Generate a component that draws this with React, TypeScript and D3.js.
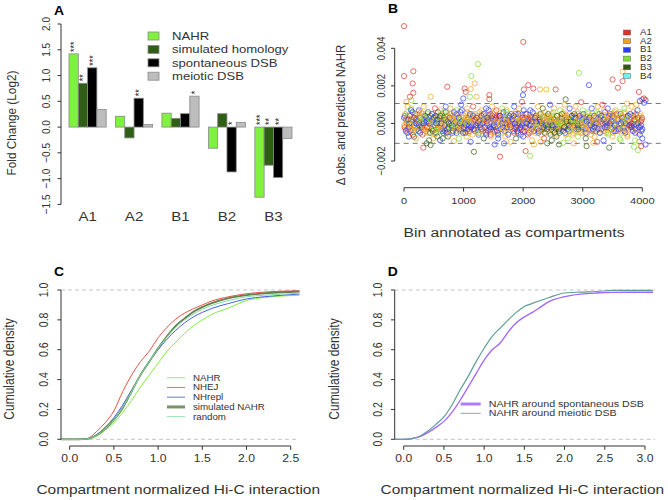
import React from "react";
import * as d3 from "d3";

// ---------- Panel A data ----------
const categories = ["A1", "A2", "B1", "B2", "B3"];
const seriesNames = ["NAHR", "simulated homology", "spontaneous DSB", "meiotic DSB"];
const nahr = [1.42, 0.21, 0.27, -0.41, -1.36];
const simHomology = [0.85, -0.21, 0.17, 0.26, -0.74];
const spontDSB = [1.15, 0.56, 0.26, -0.87, -0.98];
const meioticDSB = [0.34, 0.05, 0.6, 0.09, -0.22];
const starsNahr = ["***", "", "", "", "***"];
const starsSim = ["**", "", "", "", "**"];
const starsSpont = ["***", "**", "", "*", "**"];
const starsMeio = ["", "", "*", "", ""];
const ticksA = [-1.5, -1, -0.5, 0, 0.5, 1, 1.5, 2];

// ---------- Panel B data (values in 1e-4) ----------
const compNames = ["A1", "A2", "B1", "B2", "B3", "B4"];
// bins 0, 10, 20, ... 4000
const bandVals = [
  3,-2,5,-4,1,6,-3,2,-5,0,4,-1,7,-3,2,-6,1,3,-2,5,
  -4,0,2,-3,6,-1,4,-5,1,3,-2,-6,5,0,-3,2,4,-4,1,-2,
  6,-3,0,3,-5,2,-1,5,-4,1,3,-2,-6,4,0,-3,2,6,-1,-4,
  1,4,-3,0,5,-2,-5,3,1,-4,6,-1,2,-3,4,0,-6,3,-2,5,
  -1,3,-4,2,6,-3,0,4,-5,1,-2,5,3,-4,0,2,-3,7,-1,-5,
  4,-2,1,-5,3,0,6,-3,2,-1,-4,5,1,-2,3,-6,4,0,-3,2,
  5,-1,3,-4,0,2,-5,6,-2,1,4,-3,0,-1,5,-4,2,3,-6,1,
  3,-4,7,0,-2,5,-3,1,4,-5,2,-1,6,-2,0,3,-4,1,-6,4,
  -2,4,1,-5,3,0,-3,6,-1,2,-4,5,1,-2,3,-6,0,4,-1,2,
  5,-3,2,-1,4,-5,0,6,-2,3,-4,1,5,-3,0,2,-6,4,-1,3,
  -4,7,1,-2,5,-3,0,3,-6,2,4,-1,-5,3,1,-2,6,-4,0,2,
  3,-5,1,4,-2,0,-4,5,2,-3,1,-6,4,0,-2,3,-5,2,-1,4,
  -3,1,5,-4,0,2,-6,3,-1,4,-2,6,0,-5,2,-3,1,4,-4,0,
  2,-5,3,0,-3,5,1,-4,6,-2,0,3,-6,1,4,-3,2,-1,5,-4,
  1,-3,4,-6,2,0,5,-2,3,-4,1,6,-1,-3,2,4,-5,0,3,-2,
  -1,5,-3,2,0,-5,4,1,-2,6,-4,3,0,-1,-6,2,5,-3,1,4,
  -2,3,0,-4,6,1,-3,2,5,-5,0,4,-1,3,-4,2,7,-2,0,-5,
  4,-1,2,-6,3,0,5,-3,1,-2,4,-5,2,6,-1,0,-4,3,-2,5,
  -3,2,6,-1,0,-5,3,4,-2,1,-4,5,0,-3,2,-6,4,1,-1,3,
  5,-2,0,3,-4,6,-1,2,-5,4,1,-3,7,0,-2,3,-6,5,-1,2,
  -3,
];
const bandComp =
  "cabcbdacbcabcbdabcba" + "bcadbcbcdbcabcbdcbca" + "ebcbedbcebcdbecbcebd" + "bebcdbecbcebdcbebcdb" +
  "cbebcbdbcbebcbcdbcbe" + "bcbcbdbcbcacbcdbcbca" + "bcabcbdbcbcacbcbdbca" + "cacbcacbcbacbcbacbca" +
  "bcbdbcbcbcbdbcbcbcab" + "cbcbcacbcbcbcacbcbca" + "acbcabcbacbcbacbcbdb" + "cbcbdbcbebcbdbcbebcb" +
  "ebebdbebcbedbebcbebd" + "bebdbebcbebdbebcbebd" + "ebcbdbebcbdbcebcbdbc" + "bcbdbcbcbdbcbcbdbcbc" +
  "cbcbdbcbacbcbdbcbcab" + "bcbdbcabcbcbdbcbcbdb" + "cbdbcbcbdbcbcbdbcbcb" + "cacbcbcacbdbcacbcbca" + "c";
// bins 5, 15, 25, ... 3995
const bandVals2 = [
  -1,4,-3,2,0,-5,3,1,-2,5,-4,0,2,-3,6,1,-1,-4,3,0,
  2,-3,5,1,-4,0,3,-2,6,-1,0,4,-3,1,-5,2,0,3,-2,5,
  -5,1,3,-2,4,0,-3,2,5,-4,1,-1,3,-5,2,0,4,-2,1,-3,
  3,-1,0,4,-4,2,6,-3,-1,2,0,-5,4,1,-2,3,-3,5,0,-1,
  2,-5,4,0,-2,3,1,-4,5,-1,3,0,-3,2,6,-2,1,-4,0,3,
  -3,2,0,5,-1,-4,2,3,-5,1,4,-2,0,3,-1,5,-3,2,-4,1,
  0,3,-2,4,-5,1,2,-1,3,-3,5,0,-4,2,1,-2,4,-5,3,0,
  -1,2,4,-3,1,-6,3,0,-2,5,-1,3,-4,2,0,4,-2,-5,1,3,
  4,-1,-3,2,0,5,-2,1,-4,3,0,-1,6,-3,2,-5,1,3,-2,0,
  -2,1,4,-4,2,0,-3,5,1,-1,3,-5,0,2,4,-2,1,-3,5,0,
  2,-1,-4,3,0,5,-2,1,3,-5,0,2,-1,4,-3,1,-2,5,-4,3,
  -1,4,0,-3,2,-5,3,1,-2,5,-4,0,2,-1,4,-3,6,0,-2,1,
  3,-2,0,4,-5,1,2,-3,5,-1,-4,2,0,3,-6,1,4,-2,0,-3,
  -4,2,1,-1,3,-3,0,5,-2,4,-5,1,2,-1,0,3,-4,5,-2,1,
  0,4,-2,1,-5,3,-1,2,4,-3,0,5,-2,1,-4,3,0,-1,2,-5,
  3,-2,1,4,-3,0,2,-5,5,-1,2,-3,0,4,-2,1,-4,3,0,-2,
  1,-4,3,0,-2,5,-1,2,-5,3,1,-3,4,0,-1,2,-4,6,-2,1,
  -2,3,-5,1,4,-1,0,2,-3,5,-2,1,-4,3,0,-1,5,-3,2,-4,
  2,0,-3,5,-1,3,-4,1,2,-2,6,-5,0,3,-1,4,-3,1,-2,5,
  -1,3,-2,0,4,-4,2,1,-3,5,-1,0,3,-5,2,4,-2,1,-4,3,
];
const bandComp2 =
  "bcbabcbdcbcbabcbcdbc" + "cbdbcbcabcbdbcbcbcbd" + "bcebcbecbdbcbebcbedb" + "cbebcbdbcebcbcebdbcb" +
  "bcbcdbcbcbdbcbcbcbdb" + "cbcbcbcdbcbcabcbcbcb" + "bcbdbcbcbcbdbcacbcbc" + "acbcbacbcbcbacbcbacb" +
  "cbcbdbcbcbcbdbcbcbcb" + "bcbcbcacbcbcbdbcbcbc" + "cbacbcbdbcbacbcbcbcb" + "bcbebcbcbebcbdbcbebc" +
  "bebdbebcbebebdbebcbe" + "ebcbebdbebcbebdbcbeb" + "bcbebcbdbcebcbdbcbeb" + "cbdbcbcbdbcbcbdbcbcb" +
  "bcbcbdbcbcacbcbdbcbc" + "cbdbcbcbcbdbcbcbabcb" + "bcbcbdbcbcbcbdbcbcbd" + "cbcacbcbcacbcbdbcaca";
const outlierBins = [
  0, 0, 157, 145, 157, 100, 39, 123, 727, 447, 1018, 1035, 1119, 1107, 1130, 1186, 1242, 1219, 1432, 1432,
  995, 2002, 2013, 2086, 2170, 1997, 1980, 2282, 2388, 2545, 2936, 3104, 2713, 2975, 3501, 3591, 3669, 3669,
  3943, 4027, 4055, 3999, 3747,
  324, 380, 447, 492, 1174, 1521, 1611, 1678, 1790, 2041, 2114, 2181, 2293, 2405, 2601, 2673, 2852, 3065,
  3177, 3244, 3445, 3635, 3859, 3926, 3982, 4055, 3949, 1119, 839, 168, 604,
  60, 120, 250, 330, 520, 610, 700, 780, 880, 960, 1060, 1160, 1300, 1380, 1480, 1550, 1650, 1720, 1850,
  1930, 2120, 2250, 2330, 2450, 2520, 2620, 2700, 2780, 2880, 3000, 3150, 3250, 3330, 3420, 3550, 3700,
  3820, 3900, 3960, 4030,
  80, 200, 420, 560, 650, 740, 920, 1050, 1250, 1340, 1460, 1580, 1700, 1880, 2000, 2150, 2350, 2480, 2560,
  2750, 2920, 3050, 3200, 3350, 3500, 3620, 3750, 3880, 4000,
];
const outlierVals = [
  51.8, 25.2, 27.8, 21.3, 16.3, 14.2, 11.5, 12.4, 19.5, 14.2, 18.6, 16.8, 18.3, 14.2, 25.2, 21.3, 31.6, 14.2, 15.1, 12.9,
  13.3, 43.4, 18.1, 20.4, 18.6, 15.1, 11.5, 18.1, 18.1, 18.1, 26.9, 20.4, 12.8, 11.3, 23.4, 19.0, 27.5, 22.5,
  16.8, 13.3, 12.4, 12.8, 10.6,
  -12.9, -10.6, -11.5, -8.0, -15.1, -11.2, -17.7, -10.6, -9.8, -14.7, -17.2, -11.2, -9.8, -10.6, -11.2, -10.3, -10.6, -12.1,
  -10.3, -9.8, -12.9, -8.9, -12.4, -14.2, -12.1, -11.2, -9.8, -9.8, -9.4, -7.1, -8.9,
  9, 8, 7, 9, 8, 7, 9, 8, 7, 10, 8, 9, 7, 8, 9, 7, 8, 7, 9,
  8, 7, 9, 8, 10, 8, 7, 10, 8, 9, 7, 8, 9, 10, 8, 7, 8,
  9, 10, 12, 11,
  -7, -8, -9, -7, -8, -7, -8, -7, -6, -8, -7, -8, -7, -8, -7, -9, -8, -9, -7,
  -8, -7, -8, -7, -9, -7, -8, -7, -9, -8,
];
const outlierComp =
  "aaaaaabdabaabddbdbaa" + "caaaacabbadceaaabaa" + "acab" +
  "aeebecacbadbbeedbe" + "baedddacbcbec" +
  "bdcbabcbdcbabcbadbc" + "bcbecbdbcbdcbacbd" + "bbcc" +
  "cbeeeedbcebcbecbaeeddebcbdbdca";
const ticksBY = [-0.002, 0, 0.002, 0.004];
const ticksBX = [0, 1000, 2000, 3000, 4000];

// ---------- Panel C data ----------
const cdfXC = [-0.1, 0, 0.1, 0.2, 0.3, 0.4, 0.5, 0.6, 0.7, 0.8, 0.9, 1.0, 1.1, 1.2, 1.3, 1.4, 1.5, 1.6, 1.8, 2.0, 2.2, 2.4, 2.6];
const cdfNAHR = [0, 0, 0, 0.002, 0.02, 0.06, 0.11, 0.18, 0.26, 0.35, 0.43, 0.51, 0.59, 0.65, 0.71, 0.76, 0.8, 0.835, 0.88, 0.93, 0.95, 0.96, 0.965];
const cdfNHEJ = [0, 0, 0, 0.005, 0.05, 0.11, 0.19, 0.32, 0.43, 0.52, 0.59, 0.68, 0.75, 0.805, 0.845, 0.875, 0.9, 0.925, 0.955, 0.975, 0.986, 0.992, 0.995];
const cdfNHrepl = [0, 0, 0, 0.003, 0.03, 0.08, 0.145, 0.23, 0.33, 0.43, 0.52, 0.6, 0.67, 0.73, 0.78, 0.82, 0.85, 0.875, 0.91, 0.94, 0.955, 0.965, 0.973];
const cdfSimNAHR = [0, 0, 0, 0.003, 0.025, 0.07, 0.13, 0.21, 0.32, 0.43, 0.52, 0.61, 0.69, 0.76, 0.81, 0.855, 0.885, 0.91, 0.945, 0.965, 0.977, 0.985, 0.99];
const cdfRandom = [0, 0, 0, 0.003, 0.025, 0.07, 0.13, 0.215, 0.32, 0.43, 0.52, 0.61, 0.685, 0.75, 0.8, 0.84, 0.87, 0.895, 0.93, 0.955, 0.965, 0.972, 0.978];
const legendC = ["NAHR", "NHEJ", "NHrepl", "simulated NAHR", "random"];
const ticksCX = [0, 0.5, 1, 1.5, 2, 2.5];
const ticksCY = [0, 0.2, 0.4, 0.6, 0.8, 1];

// ---------- Panel D data ----------
const cdfXD = [-0.11, 0, 0.1, 0.2, 0.3, 0.4, 0.5, 0.6, 0.7, 0.8, 0.9, 1.0, 1.1, 1.2, 1.3, 1.4, 1.5, 1.6, 1.7, 1.8, 2.0, 2.2, 2.4, 2.6, 2.8, 3.1];
const cdfSpont = [0, 0, 0.005, 0.018, 0.045, 0.08, 0.12, 0.18, 0.26, 0.35, 0.44, 0.53, 0.6, 0.645, 0.72, 0.78, 0.82, 0.85, 0.885, 0.92, 0.955, 0.972, 0.98, 0.984, 0.985, 0.985];
const cdfMeiotic = [0, 0, 0.005, 0.02, 0.055, 0.1, 0.15, 0.23, 0.33, 0.42, 0.52, 0.61, 0.69, 0.745, 0.8, 0.85, 0.89, 0.91, 0.93, 0.948, 0.98, 0.986, 0.99, 0.997, 0.998, 0.998];
const legendD = ["NAHR around spontaneous DSB", "NAHR around meiotic DSB"];
const ticksDX = [0, 0.5, 1, 1.5, 2, 2.5, 3];

// ---------- styles ----------
const FONT = "'Liberation Sans', Arial, Helvetica, sans-serif";
const SX = 1.16;
const AX = "#333";
const TXT = "#333";
const barColors = ["#80f23e", "#2f5e16", "#000000", "#bdbdbd"];
const compColors = ["#e0302a", "#f0a020", "#2a3cf5", "#80e030", "#2f5a10", "#70f0f0"];
const cColors = ["#80f040", "#e8524a", "#4a5cf0", "#62804a", "#80dca8"];
const dColors = ["#a066ff", "#5f9e96"];

function HT({ x, y, size, anchor = "middle", weight = "normal", fill = TXT, children }: any) {
  return (
    <text transform={`translate(${x},${y}) scale(${SX},1)`} fontSize={size} textAnchor={anchor}
      fontWeight={weight} fill={fill} fontFamily={FONT}>{children}</text>
  );
}
function VT({ x, y, size, anchor = "middle", fill = TXT, children }: any) {
  return (
    <text transform={`translate(${x},${y}) rotate(-90) scale(1,${SX})`} fontSize={size} textAnchor={anchor}
      fill={fill} fontFamily={FONT}>{children}</text>
  );
}

function PanelA() {
  const y = d3.scaleLinear().domain([-1.5, 2]).range([204.4, 24]);
  const slot = d3.scaleLinear().domain([0, 24]).range([69, 292]);
  const w = slot(1) - slot(0);
  const series = [nahr, simHomology, spontDSB, meioticDSB];
  const stars = [starsNahr, starsSim, starsSpont, starsMeio];
  const f = d3.format(".1f");
  return (
    <g>
      <HT x={59} y={15} size={12} weight="bold" fill="#000">A</HT>
      <line x1={61} x2={61} y1={y(-1.5)} y2={y(2)} stroke={AX} />
      {ticksA.map((t) => (
        <g key={t}>
          <line x1={57.5} x2={61} y1={y(t)} y2={y(t)} stroke={AX} />
          <VT x={50} y={y(t)} size={10}>{f(t)}</VT>
        </g>
      ))}
      <VT x={16} y={123} size={11.8}>Fold Change (Log2)</VT>
      {categories.map((c, i) => (
        <g key={c}>
          {series.map((s, j) => {
            const x0 = slot(i * 5 + j);
            const v = s[i];
            return (
              <rect key={j} x={x0} width={w} y={Math.min(y(v), y(0))} height={Math.abs(y(v) - y(0))}
                fill={barColors[j]} stroke="#8a8a8a" strokeWidth={0.8} />
            );
          })}
          {stars.map((s, j) => {
            if (!s[i]) return null;
            const cx = slot(i * 5 + j) + w / 2;
            const top = Math.min(y(series[j][i]), y(0));
            return <VT key={"s" + j} x={cx + 4.5} y={top - 2} size={9} anchor="start" fill="#222">{s[i]}</VT>;
          })}
          <HT x={slot(i * 5 + 2)} y={221} size={13}>{c}</HT>
        </g>
      ))}
      {seriesNames.map((n, j) => (
        <g key={n}>
          <rect x={148} y={32 + j * 13.4} width={11} height={8} fill={barColors[j]} stroke="#8a8a8a" strokeWidth={0.8} />
          <HT x={172} y={40 + j * 13.4} size={11.3} anchor="start">{n}</HT>
        </g>
      ))}
    </g>
  );
}

function PanelB() {
  const x = d3.scaleLinear().domain([0, 4000]).range([404, 642.3]);
  const y = d3.scaleLinear().domain([-0.002, 0.004]).range([161, 48.3]);
  const f = d3.format(".3f");
  const codes = "abcdef";
  const band = bandVals.map((v, i) => ({ bin: i * 10, v: v * 1e-4, c: codes.indexOf(bandComp[i]) }));
  const band2 = bandVals2.map((v, i) => ({ bin: i * 10 + 5, v: v * 1e-4, c: codes.indexOf(bandComp2[i]) }));
  const outs = outlierBins.map((b, i) => ({ bin: b, v: outlierVals[i] * 1e-4, c: codes.indexOf(outlierComp[i]) }));
  const pts = [...outs, ...band2, ...band];
  return (
    <g>
      <HT x={393} y={13} size={12} weight="bold" fill="#000">B</HT>
      {pts.map((p, i) => (
        <circle key={i} cx={x(p.bin)} cy={y(p.v)} r={2.6} fill="none"
          stroke={compColors[Math.max(0, p.c)]} strokeOpacity={0.78} strokeWidth={0.9} />
      ))}
      <line x1={394.7} x2={662} y1={y(0.00106)} y2={y(0.00106)} stroke="#777" strokeDasharray="5,4" />
      <line x1={394.7} x2={662} y1={y(-0.00106)} y2={y(-0.00106)} stroke="#777" strokeDasharray="5,4" />
      <line x1={394.7} x2={394.7} y1={y(-0.002)} y2={y(0.004)} stroke={AX} />
      {ticksBY.map((t) => (
        <g key={t}>
          <line x1={391} x2={394.7} y1={y(t)} y2={y(t)} stroke={AX} />
          <VT x={385} y={y(t)} size={9.5}>{f(t)}</VT>
        </g>
      ))}
      <line x1={x(0)} x2={x(4000)} y1={187.7} y2={187.7} stroke={AX} />
      {ticksBX.map((t) => (
        <g key={t}>
          <line x1={x(t)} x2={x(t)} y1={187.7} y2={191.5} stroke={AX} />
          <HT x={x(t)} y={203.5} size={9.5}>{t}</HT>
        </g>
      ))}
      <HT x={514} y={237} size={13.5}>Bin annotated as compartments</HT>
      <VT x={345} y={115} size={11.5}>Δ obs. and predicted NAHR</VT>
      {compNames.map((n, i) => (
        <g key={n}>
          <rect x={623.3} y={30 + i * 8.7} width={7.3} height={5} fill={compColors[i]} stroke="#666" strokeWidth={0.5} />
          <HT x={640} y={35 + i * 8.7} size={8.3} anchor="start">{n}</HT>
        </g>
      ))}
    </g>
  );
}

function CdfPanel({ letter, x0, xTicks, xDomain, xRange, xs, curves, colors, widths, names, legX, legY, legStep, legWidths, dashEnd, ylabX }: any) {
  const x = d3.scaleLinear().domain(xDomain).range(xRange);
  const y = d3.scaleLinear().domain([0, 1]).range([439.3, 290]);
  const f = d3.format(".1f");
  const line = d3.line<number>().x((_, i) => x(xs[i])).y((v) => y(v)).curve(d3.curveMonotoneX);
  const ax = x0;
  return (
    <g>
      <HT x={ax - 2} y={276} size={12} weight="bold" fill="#000">{letter}</HT>
      <line x1={ax} x2={dashEnd} y1={y(1)} y2={y(1)} stroke="#c4c4c4" strokeDasharray="4,3" />
      <line x1={ax} x2={dashEnd} y1={y(0)} y2={y(0)} stroke="#c4c4c4" strokeDasharray="4,3" />
      {curves.map((c: number[], i: number) => (
        <path key={i} d={line(c) || ""} fill="none" stroke={colors[i]} strokeWidth={widths[i]} />
      ))}
      <line x1={ax} x2={ax} y1={y(0)} y2={y(1)} stroke={AX} />
      {ticksCY.map((t) => (
        <g key={t}>
          <line x1={ax - 3.7} x2={ax} y1={y(t)} y2={y(t)} stroke={AX} />
          <VT x={ax - 13} y={y(t)} size={10.5}>{f(t)}</VT>
        </g>
      ))}
      <line x1={x(xTicks[0])} x2={x(xTicks[xTicks.length - 1])} y1={446} y2={446} stroke={AX} />
      {xTicks.map((t: number) => (
        <g key={t}>
          <line x1={x(t)} x2={x(t)} y1={446} y2={449.8} stroke={AX} />
          <HT x={x(t)} y={462} size={10.5}>{f(t)}</HT>
        </g>
      ))}
      <HT x={(xRange[0] + xRange[1]) / 2 - 2} y={494} size={13.3}>Compartment normalized Hi-C interaction</HT>
      <VT x={ylabX} y={369} size={12}>Cumulative density</VT>
      {names.map((n: string, i: number) => (
        <g key={n}>
          <line x1={legX} x2={legX + legWidths[0]} y1={legY + i * legStep} y2={legY + i * legStep}
            stroke={colors[i]} strokeWidth={legWidths[1 + i]} strokeOpacity={0.85} />
          <HT x={legX + legWidths[0] + 8} y={legY + i * legStep + 3} size={names.length > 2 ? 8.4 : 9.2} anchor="start">{n}</HT>
        </g>
      ))}
    </g>
  );
}

export default function App() {
  return (
    <svg width={668} height={500} style={{ position: "absolute", left: 0, top: 0, background: "#fff" }}>
      <rect width={668} height={500} fill="#fff" />
      <PanelA />
      <PanelB />
      <CdfPanel letter="C" x0={61} xTicks={ticksCX} xDomain={[0, 2.5]} xRange={[69.7, 290.7]} xs={cdfXC}
        curves={[cdfNAHR, cdfNHEJ, cdfNHrepl, cdfSimNAHR, cdfRandom]} colors={cColors}
        widths={[1, 1, 1, 1.8, 1]} names={legendC} legX={167} legY={377.7} legStep={9.75}
        legWidths={[18, 1, 1, 1, 3, 1]} dashEnd={299} ylabX={14} />
      <CdfPanel letter="D" x0={394.7} xTicks={ticksDX} xDomain={[0, 3]} xRange={[403.7, 645]} xs={cdfXD}
        curves={[cdfSpont, cdfMeiotic]} colors={dColors}
        widths={[1.3, 1.2]} names={legendD} legX={460.7} legY={404} legStep={9.3}
        legWidths={[20, 3, 1]} dashEnd={655} ylabX={339} />
    </svg>
  );
}
